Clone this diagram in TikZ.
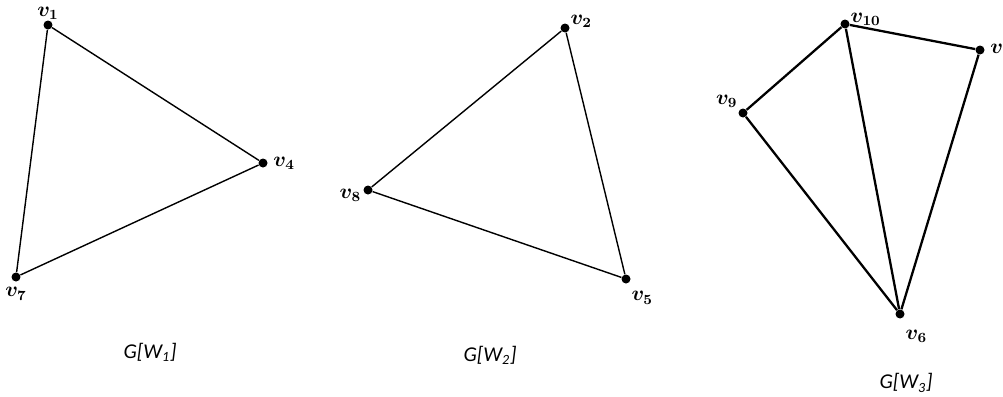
\documentclass[tikz,border=0pt]{standalone}
\usepackage{fontspec}
\usepackage{tikz}
\usetikzlibrary{positioning}
\newfontfamily\capfont{Carlito}

\begin{document}
\begin{tikzpicture}[x=0.02cm, y=-0.02cm,
          vx/.style={circle, fill=black, inner sep=0pt, minimum size=0.18cm},
          lbl/.style={font=\large\boldmath, inner sep=1pt},
          captext/.style={font=\capfont\itshape\large},
          ed/.style={draw=black, line width=0.8pt},
          edb/.style={draw=black, line width=1.3pt}
        ]
        \useasboundingbox (0,0) rectangle (1003,396);

        % G[W1]
        \node[vx] (v1) at (48, 25)  {};
        \node[vx] (v4) at (263,163) {};
        \node[vx] (v7) at (16, 277) {};
        \node[lbl, above=-1pt of v1]       {$v_1$};
        \node[lbl, right=2pt of v4]        {$v_4$};
        \node[lbl, below=2pt of v7]        {$v_7$};
        \draw[ed] (v1) -- (v4) -- (v7) -- (v1);
        \node[captext] (c1) at (150,352) {G[W\textsubscript{1}]};

        % G[W2]
        \node[vx] (v2) at (565, 28) {};
        \node[vx] (v8) at (368,190) {};
        \node[vx] (v5) at (626,279) {};
        \node[lbl, above right=-3pt and 0pt of v2] {$v_2$};
        \node[lbl, left=0pt of v8, yshift=-3pt]    {$v_8$};
        \node[lbl, below right=4pt and 0pt of v5]  {$v_5$};
        \draw[ed] (v2) -- (v8) -- (v5) -- (v2);
        \node[captext] (c2) at (490,355) {G[W\textsubscript{2}]};

        % G[W3]
        \node[vx] (v10) at (845, 24) {};
        \node[vx] (v3)  at (980, 50) {};
        \node[vx] (v9)  at (743,113) {};
        \node[vx] (v6)  at (900,314) {};
        \node[lbl, above right=-4pt and 0pt of v10] {$v_{10}$};
        \node[lbl, right=2pt of v3]                 {$v_3$};
        \node[lbl, above left=0pt and 0pt of v9]    {$v_9$};
        \node[lbl, below right=6pt and 0pt of v6]   {$v_6$};
        \draw[edb] (v9) -- (v10) -- (v3) -- (v6) -- (v9);
        \draw[edb] (v10) -- (v6);
        \node[captext] (c3) at (906,383) {G[W\textsubscript{3}]};
      \end{tikzpicture}
\end{document}
